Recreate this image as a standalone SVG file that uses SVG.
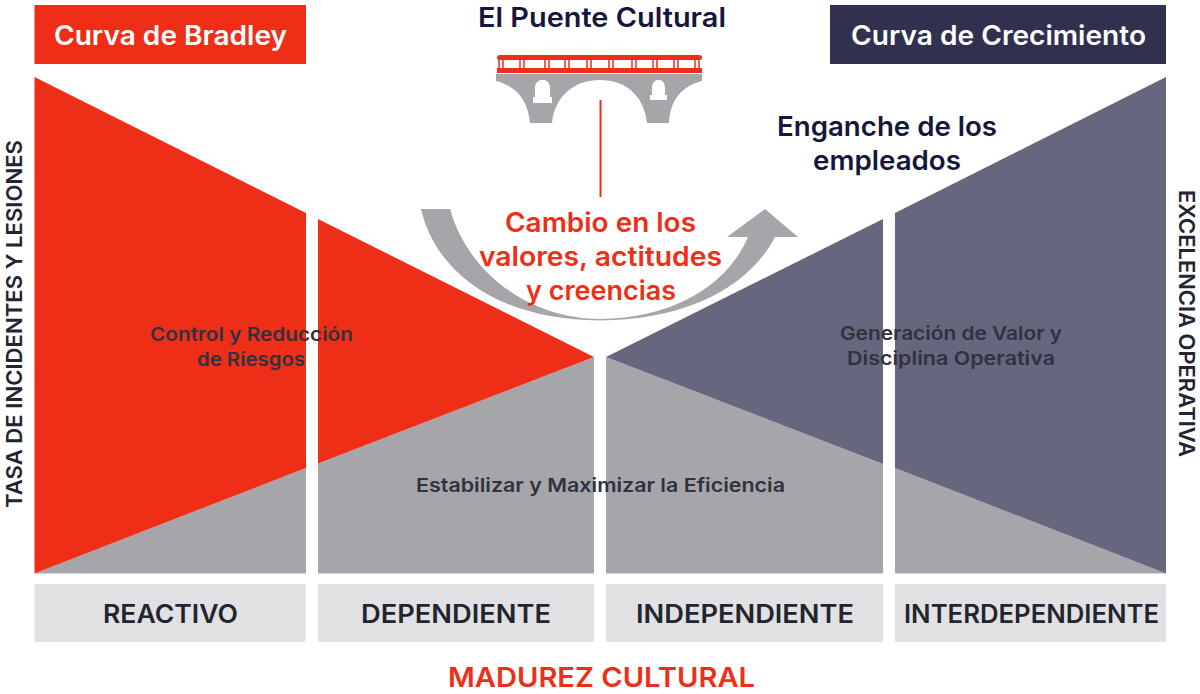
<svg xmlns="http://www.w3.org/2000/svg" width="1200" height="694" viewBox="0 0 1200 694">
<style>
text{font-family:"Inter","Liberation Sans",sans-serif;font-weight:600;text-anchor:middle}
.red{fill:#ef2e18}.gray{fill:#a6a6aa}.slate{fill:#66667e}.box{fill:#e1e1e3}
.head{font-size:27px;fill:#fff}
.navy{fill:#14163a;font-size:27px}
.chg{fill:#ef2e18;font-size:27px}
.inner{fill:#30323f;font-size:19px}
.lvl{fill:#22252f;font-size:25px}
.side{fill:#22252f;font-size:21.500px}
</style>
<rect width="1200" height="694" fill="#fff"/>
<g id="header-bradley"><rect class="red" x="34.500" y="5" width="271.500" height="59"/><text class="head" x="170.500" y="45" textLength="233" lengthAdjust="spacingAndGlyphs">Curva de Bradley</text></g>
<g id="header-crecimiento"><rect x="830" y="5" width="336" height="59" fill="#31314f"/><text class="head" x="998.500" y="45" textLength="295" lengthAdjust="spacingAndGlyphs">Curva de Crecimiento</text></g>
<g id="col-reactivo">
<polygon class="gray" points="34.500,573.500 306,468 306,573.500"/>
<polygon class="red" points="34.500,77 306,213 306,468 34.500,573.500"/>
</g>
<g id="col-dependiente">
<polygon class="gray" points="318,463.500 594,357 594,573.500 318,573.500"/>
<polygon class="red" points="318,219 594,357 318,463.500"/>
</g>
<g id="col-independiente">
<polygon class="gray" points="606,357 883,464 883,573.500 606,573.500"/>
<polygon class="slate" points="606,357 883,219 883,464"/>
</g>
<g id="col-interdependiente">
<polygon class="gray" points="895,468 1166,573.500 895,573.500"/>
<polygon class="slate" points="895,213 1166,77 1166,573.500 895,468"/>
</g>
<g id="bridge">
<path class="gray" d="M496,74H702V81C682,86 670,100 669,123H647C644,95 625,80 600,80C575,80 555,95 552,123H530C528,100 516,86 496,81Z"/>
<path fill="#fff" d="M535,98V88C535,77 550,77 550,88V98ZM652,96V88C652,77 665,77 665,88V96Z"/>
<rect x="533" y="97" width="19" height="6" fill="#fff"/>
<rect x="650" y="95" width="17" height="5" fill="#fff"/>
<rect class="red" x="497" y="55" width="205" height="5" rx="2.500"/>
<rect class="red" x="497" y="68" width="205" height="5"/>
<path stroke="#ef2e18" stroke-width="1.500" fill="none" d="M499,60V68M503,60V68M520,60V68M524,60V68M545,60V68M549,60V68M565,60V68M569,60V68M587,60V68M591,60V68M609,60V68M613,60V68M632,60V68M636,60V68M653,60V68M657,60V68M674,60V68M678,60V68M695,60V68M699,60V68"/>
</g>
<g id="connectors">
<line x1="600.500" y1="100" x2="600.500" y2="197" stroke="#ef2e18" stroke-width="2"/>
<path class="gray" d="M421,209C435,270 495,320 600,320.500C690,320 750,285 775,237H798L765,209L727,237H748C730,280 680,318 600,319C525,318 467,270 450,209Z"/>
</g>
<g id="labels">
<text class="navy" x="602" y="27" textLength="248" lengthAdjust="spacingAndGlyphs">El Puente Cultural</text>
<text class="navy" x="887" y="136" textLength="220" lengthAdjust="spacingAndGlyphs">Enganche de los</text>
<text class="navy" x="887" y="170" textLength="148" lengthAdjust="spacingAndGlyphs">empleados</text>
<text class="chg" x="600.500" y="232" textLength="191" lengthAdjust="spacingAndGlyphs">Cambio en los</text>
<text class="chg" x="600.500" y="266" textLength="243" lengthAdjust="spacingAndGlyphs">valores, actitudes</text>
<text class="chg" x="601" y="300" textLength="150" lengthAdjust="spacingAndGlyphs">y creencias</text>
<text class="inner" x="251.500" y="341" textLength="203" lengthAdjust="spacingAndGlyphs">Control y Reducción</text>
<text class="inner" x="251" y="366" textLength="108" lengthAdjust="spacingAndGlyphs">de Riesgos</text>
<text class="inner" x="951" y="340" textLength="222" lengthAdjust="spacingAndGlyphs">Generación de Valor y</text>
<text class="inner" x="951" y="365" textLength="208" lengthAdjust="spacingAndGlyphs">Disciplina Operativa</text>
<text class="inner" x="600.500" y="492" textLength="369" lengthAdjust="spacingAndGlyphs">Estabilizar y Maximizar la Eficiencia</text>
<text class="side" transform="translate(22,324) rotate(-90)" textLength="368" lengthAdjust="spacingAndGlyphs">TASA DE INCIDENTES Y LESIONES</text>
<text class="side" transform="translate(1179,323.500) rotate(90)" textLength="267" lengthAdjust="spacingAndGlyphs">EXCELENCIA OPERATIVA</text>
<text x="601.500" y="687" fill="#ef2e18" font-size="27" textLength="307" lengthAdjust="spacingAndGlyphs">MADUREZ CULTURAL</text>
</g>
<g id="level-reactivo"><rect class="box" x="34.500" y="584" width="271" height="58"/><text class="lvl" x="170.500" y="623" textLength="135" lengthAdjust="spacingAndGlyphs">REACTIVO</text></g>
<g id="level-dependiente"><rect class="box" x="318" y="584" width="276" height="58"/><text class="lvl" x="456" y="623" textLength="190" lengthAdjust="spacingAndGlyphs">DEPENDIENTE</text></g>
<g id="level-independiente"><rect class="box" x="606" y="584" width="277" height="58"/><text class="lvl" x="745" y="623" textLength="218" lengthAdjust="spacingAndGlyphs">INDEPENDIENTE</text></g>
<g id="level-interdependiente"><rect class="box" x="895" y="584" width="271" height="58"/><text class="lvl" x="1031.500" y="623" textLength="255" lengthAdjust="spacingAndGlyphs">INTERDEPENDIENTE</text></g>
</svg>
